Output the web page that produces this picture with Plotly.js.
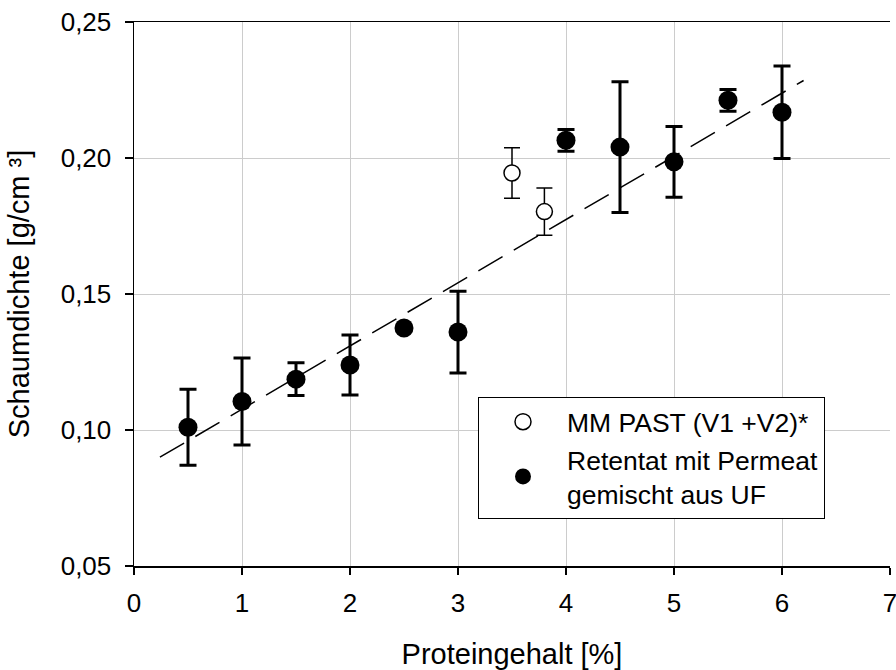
<!DOCTYPE html>
<html>
<head>
<meta charset="utf-8">
<script src="https://cdn.plot.ly/plotly-3.0.1.min.js"></script>
<style>
html,body{margin:0;padding:0;background:#fff;}
#chart{width:896px;height:670px;}
</style>
</head>
<body>
<div id="chart"></div>
<script>
// Data
const pastX = [3.5, 3.8];
const pastY = [0.1945, 0.1803];
const pastErr = [0.0093, 0.0087];

const retX = [0.5, 1, 1.5, 2, 2.5, 3, 4, 4.5, 5, 5.5, 6];
const retY = [0.101, 0.1105, 0.1187, 0.1239, 0.1375, 0.136, 0.2065, 0.204, 0.1986, 0.2212, 0.2168];
const retErr = [0.014, 0.016, 0.006, 0.011, 0, 0.015, 0.004, 0.024, 0.013, 0.004, 0.017];

const trendX = [0.24, 6.2];
const trendY = [0.090, 0.2285];

const xTickVals = [0, 1, 2, 3, 4, 5, 6, 7];
const yTickVals = [0.05, 0.10, 0.15, 0.20, 0.25];

const legendPast = 'MM PAST (V1 +V2)*';
const legendRet = 'Retentat mit Permeat<br>gemischt aus UF';

const FONT = 'Liberation Sans, Arial, sans-serif';

const traces = [
  {
    x: trendX, y: trendY, type: 'scatter', mode: 'lines',
    line: {color: '#000', width: 1.5, dash: '28px,13px'},
    showlegend: false, hoverinfo: 'skip'
  },
  {
    x: pastX, y: pastY, type: 'scatter', mode: 'markers', name: legendPast,
    marker: {symbol: 'circle', size: 16, color: '#fff', line: {color: '#000', width: 1.5}},
    error_y: {type: 'data', array: pastErr, visible: true, color: '#000', thickness: 1.5, width: 8}
  },
  {
    x: retX, y: retY, type: 'scatter', mode: 'markers', name: legendRet,
    marker: {symbol: 'circle', size: 19, color: '#000', line: {color: '#000', width: 0}},
    error_y: {type: 'data', array: retErr, visible: true, color: '#000', thickness: 3, width: 8.5}
  }
];

const layout = {
  width: 896, height: 670,
  margin: {l: 134, r: 6, t: 22, b: 104},
  paper_bgcolor: '#fff', plot_bgcolor: '#fff',
  separators: ',.',
  font: {family: FONT, size: 26, color: '#000'},
  showlegend: true,
  legend: {
    x: (478 - 134) / 756, y: (566 - 397) / 544, xanchor: 'left', yanchor: 'top',
    bgcolor: '#fff', bordercolor: '#000', borderwidth: 1,
    font: {family: FONT, size: 26.5, color: '#000'},
    itemwidth: 78, tracegroupgap: 0, itemsizing: 'trace'
  },
  xaxis: {
    range: [0, 7], tickvals: xTickVals, ticktext: xTickVals.map(String),
    ticklabeloverflow: 'allow',
    showgrid: true, gridcolor: '#cccccc', gridwidth: 1,
    showline: true, linecolor: '#000', linewidth: 1.5, mirror: true,
    ticks: 'outside', ticklen: 7, tickwidth: 1.5, tickcolor: '#000',
    ticklabelstandoff: 6,
    zeroline: false,
    tickfont: {family: FONT, size: 26},
    title: {text: 'Proteingehalt [%]', font: {family: FONT, size: 29}, standoff: 28}
  },
  yaxis: {
    range: [0.05, 0.25], tickvals: yTickVals, tickformat: '.2f',
    ticklabeloverflow: 'allow',
    showgrid: true, gridcolor: '#cccccc', gridwidth: 1,
    showline: true, linecolor: '#000', linewidth: 1.5,
    ticks: 'outside', ticklen: 8, tickwidth: 1.5, tickcolor: '#000',
    ticklabelstandoff: 8,
    zeroline: false,
    tickfont: {family: FONT, size: 26},
    title: {text: 'Schaumdichte [g/cm ³]', font: {family: FONT, size: 29}, standoff: 22}
  }
};

Plotly.newPlot('chart', traces, layout, {displayModeBar: false, staticPlot: true});
</script>
</body>
</html>
